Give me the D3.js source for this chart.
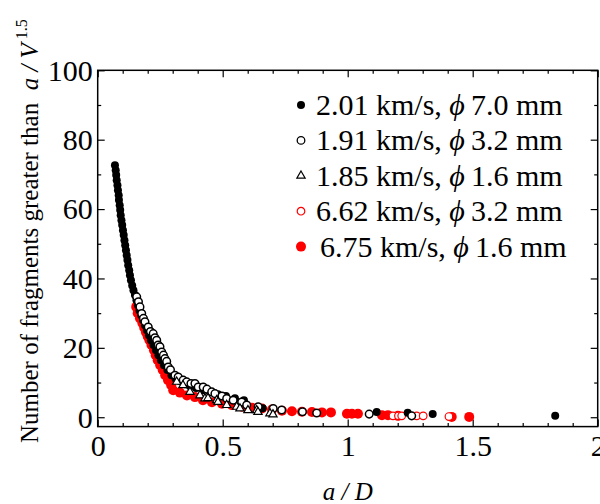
<!DOCTYPE html>
<html>
<head>
<meta charset="utf-8">
<script src="https://cdn.jsdelivr.net/npm/d3@7"></script>
<style>
  body { margin: 0; background: #fff; }
  svg { display: block; }
  text { font-family: 'Liberation Serif', 'Times New Roman', serif; fill: #000; }
</style>
</head>
<body>
<div id="chart"></div>
<script>
const xMajorTicks = [0, 0.5, 1, 1.5, 2];
const xMinorTicks = [0.1, 0.2, 0.3, 0.4, 0.6, 0.7, 0.8, 0.9, 1.1, 1.2, 1.3, 1.4, 1.6, 1.7, 1.8, 1.9];
const yMajorTicks = [0, 20, 40, 60, 80, 100];
const yMinorTicks = [10, 30, 50, 70, 90];

const legendLabels = [
  ['2.01 km/s, ', '7.0 mm'],
  ['1.91 km/s, ', '3.2 mm'],
  ['1.85 km/s, ', '1.6 mm'],
  ['6.62 km/s, ', '3.2 mm'],
  ['6.75 km/s, ', '1.6 mm'],
];

// 2.01 km/s, phi 7.0 mm
const blackFilled = [
  [0.069, 72.6], [0.072, 71.2], [0.074, 69.8], [0.076, 68.3], [0.079, 66.9], [0.081, 65.4],
  [0.084, 64.0], [0.085, 62.6], [0.088, 61.1], [0.090, 59.7], [0.092, 58.2], [0.095, 56.8],
  [0.098, 55.4], [0.101, 53.9], [0.104, 52.5], [0.107, 51.0], [0.110, 49.6], [0.113, 48.1],
  [0.116, 46.7], [0.119, 45.3], [0.122, 43.8], [0.126, 42.4], [0.129, 40.9], [0.133, 39.5],
  [0.138, 38.0], [0.143, 36.6], [0.149, 35.2], [0.155, 33.7], [0.161, 32.3], [0.167, 30.8],
  [0.174, 29.4], [0.181, 28.0], [0.189, 26.5], [0.197, 25.1], [0.205, 23.6], [0.213, 22.2],
  [0.223, 20.8], [0.233, 19.3], [0.243, 17.9], [0.253, 16.4], [0.265, 15.0], [0.279, 13.6],
  [0.295, 12.1], [0.311, 11.2], [0.329, 10.4], [0.349, 9.5], [0.369, 8.9], [0.393, 8.4],
  [0.421, 7.8], [0.449, 7.2], [0.481, 6.6], [0.513, 6.1], [0.549, 5.5], [0.585, 4.9],
  [0.66, 2.6], [1.116, 1.5], [1.24, 1.3], [1.34, 0.9], [1.83, 0.4],
];

// 1.91 km/s, phi 3.2 mm
const blackOpen = [
  [0.156, 34.7], [0.163, 33.3], [0.169, 31.8], [0.176, 29.9], [0.183, 28.5], [0.189, 27.5],
  [0.202, 26.0], [0.211, 24.7], [0.222, 24.1], [0.229, 22.9], [0.236, 22.2], [0.242, 20.8],
  [0.249, 20.3], [0.256, 18.8], [0.263, 17.9], [0.269, 16.9], [0.276, 16.1], [0.282, 14.5],
  [0.291, 13.7], [0.309, 12.1], [0.322, 11.6], [0.342, 10.7], [0.356, 10.2], [0.373, 9.7],
  [0.389, 9.7], [0.402, 8.7], [0.422, 8.7], [0.437, 8.1], [0.456, 7.3], [0.469, 6.8],
  [0.497, 6.1], [0.516, 5.4], [0.542, 4.9], [0.576, 4.4], [0.596, 3.5], [0.642, 3.0],
  [0.702, 2.5], [0.736, 2.1], [0.819, 1.6], [0.876, 1.2], [1.086, 0.9], [1.256, 0.4],
];

// 1.85 km/s, phi 1.6 mm
const triangles = [
  [0.316, 10.2], [0.341, 9.2], [0.369, 7.3], [0.409, 6.3], [0.429, 5.4], [0.441, 5.5],
  [0.476, 4.9], [0.481, 4.4], [0.516, 3.5], [0.556, 3.0], [0.569, 2.5], [0.601, 2.0],
  [0.636, 2.0], [0.641, 1.5], [0.689, 1.1], [0.701, 0.8],
];

// 6.62 km/s, phi 3.2 mm
const redOpen = [
  [1.181, 0.4], [1.203, 0.4], [1.216, 0.4], [1.276, 0.4], [1.302, 0.4], [1.405, 0.2],
];

// 6.75 km/s, phi 1.6 mm
const redFilled = [
  [0.154, 31.8], [0.160, 30.0], [0.169, 28.5], [0.179, 27.1], [0.186, 25.8], [0.193, 24.5],
  [0.200, 23.3], [0.207, 22.2], [0.215, 20.8], [0.225, 19.3], [0.232, 17.9], [0.240, 16.4],
  [0.250, 15.0], [0.260, 13.6], [0.270, 12.1], [0.281, 10.7], [0.294, 9.2], [0.302, 7.8],
  [0.329, 7.1], [0.357, 6.3], [0.389, 5.8], [0.421, 4.9], [0.457, 4.3], [0.497, 3.9],
  [0.537, 3.5], [0.577, 3.0], [0.617, 2.7], [0.657, 2.5], [0.697, 2.2], [0.737, 1.9],
  [0.777, 1.7], [0.817, 1.6], [0.857, 1.5], [0.897, 1.4], [0.933, 1.4], [0.997, 1.0],
  [1.017, 1.0], [1.041, 1.0], [1.137, 0.6], [1.161, 0.6], [1.201, 0.4], [1.416, 0.1],
  [1.486, 0.1],
];

const width = 600;
const height = 504;
const margin = {top: 70.3, right: 2.3, bottom: 77.4, left: 97.7};

const svg = d3
  .select('#chart')
  .append('svg')
  .attr('width', width)
  .attr('height', height);

const xScale = d3
  .scaleLinear()
  .domain([0, 2])
  .range([margin.left, width - margin.right]);
const yScale = d3
  .scaleLinear()
  .domain([-2.7, 100])
  .range([height - margin.bottom, margin.top]);

const x0 = xScale.range()[0], x1 = xScale.range()[1];
const y0 = yScale.range()[0], y1 = yScale.range()[1];

// ticks on all four sides, pointing inward
const addAxis = (axisFn, scale, values, size, transform, labels) => {
  const g = svg
    .append('g')
    .attr('transform', transform)
    .call(
      axisFn(scale)
        .tickValues(values)
        .tickSizeInner(-size)
        .tickSizeOuter(0)
        .tickPadding(labels ? 10 : 0)
        .tickFormat(labels ? d3.format('') : () => '')
    );
  g.select('.domain').remove();
  g.selectAll('line').attr('stroke', '#000').attr('stroke-width', 1.2);
  g.selectAll('text')
    .style('font-size', '30px')
    .attr('fill', '#000');
  return g;
};

addAxis(d3.axisBottom, xScale, xMajorTicks, 7, `translate(0,${y0})`, true)
  .selectAll('text')
  .attr('dy', '0.65em');
addAxis(d3.axisBottom, xScale, xMinorTicks, 3.5, `translate(0,${y0})`, false);
addAxis(d3.axisTop, xScale, xMajorTicks, 7, `translate(0,${y1})`, false);
addAxis(d3.axisTop, xScale, xMinorTicks, 3.5, `translate(0,${y1})`, false);
addAxis(d3.axisLeft, yScale, yMajorTicks, 7, `translate(${x0},0)`, true)
  .selectAll('text')
  .attr('dy', '0.33em')
  .attr('x', -5);
addAxis(d3.axisLeft, yScale, yMinorTicks, 3.5, `translate(${x0},0)`, false);
addAxis(d3.axisRight, yScale, yMajorTicks, 7, `translate(${x1},0)`, false);
addAxis(d3.axisRight, yScale, yMinorTicks, 3.5, `translate(${x1},0)`, false);

// frame
svg
  .append('rect')
  .attr('x', x0)
  .attr('y', y1)
  .attr('width', x1 - x0)
  .attr('height', y0 - y1)
  .attr('fill', 'none')
  .attr('stroke', '#000')
  .attr('stroke-width', 1.5);

// points: reds underneath, then black series
const plot = svg.append('g');

const drawCircles = (data, r, fill, stroke, sw) => {
  plot
    .append('g')
    .selectAll('circle')
    .data(data)
    .join('circle')
    .attr('cx', (d) => xScale(d[0]))
    .attr('cy', (d) => yScale(d[1]))
    .attr('r', r)
    .attr('fill', fill)
    .attr('stroke', stroke)
    .attr('stroke-width', sw);
};

const triangle = d3.symbol().type(d3.symbolTriangle).size(30);

drawCircles(redFilled, 5, '#ff0000', 'none', 0);
drawCircles(redOpen, 3.8, '#fff', '#ff0000', 1.2);
drawCircles(blackFilled, 4, '#000', 'none', 0);
drawCircles(blackOpen, 3.8, '#fff', '#000', 1.5);
plot
  .append('g')
  .selectAll('path')
  .data(triangles)
  .join('path')
  .attr('d', triangle)
  .attr('transform', (d) => `translate(${xScale(d[0])},${yScale(d[1])})`)
  .attr('fill', '#fff')
  .attr('stroke', '#000')
  .attr('stroke-width', 1.2);

// legend
const legend = svg.append('g').attr('transform', 'translate(301,105)');
const rowH = 35.4;
const markers = [
  (g) => g.append('circle').attr('r', 4).attr('fill', '#000'),
  (g) => g.append('circle').attr('r', 3.8).attr('fill', '#fff').attr('stroke', '#000').attr('stroke-width', 1.3),
  (g) => g.append('path').attr('d', triangle).attr('fill', '#fff').attr('stroke', '#000').attr('stroke-width', 1.2),
  (g) => g.append('circle').attr('r', 3.8).attr('fill', '#fff').attr('stroke', '#ff0000').attr('stroke-width', 1.2),
  (g) => g.append('circle').attr('r', 5).attr('fill', '#ff0000'),
];
legendLabels.forEach((lab, i) => {
  const row = legend.append('g').attr('transform', `translate(0,${i * rowH})`);
  markers[i](row);
  const t = row
    .append('text')
    .attr('x', i === 4 ? 19 : 15)
    .attr('y', 10)
    .style('font-size', '30px');
  t.append('tspan').text(lab[0]);
  t.append('tspan').style('font-style', 'italic').text('\u03d5\u2009');
  t.append('tspan').text(lab[1]);
});

// axis titles
svg
  .append('text')
  .attr('x', (x0 + x1) / 2)
  .attr('y', 500)
  .attr('text-anchor', 'middle')
  .style('font-size', '25px')
  .style('font-style', 'italic')
  .text('a / D');

const yTitle = svg
  .append('text')
  .attr('transform', 'translate(38,443) rotate(-90)')
  .style('font-size', '25px');
yTitle.append('tspan').text('Number of fragments greater than\u00a0\u00a0');
yTitle.append('tspan').style('font-style', 'italic').text('a / V');
yTitle.append('tspan').attr('dy', -11).style('font-size', '16px').text('\u00a01.5');
</script>
</body>
</html>
